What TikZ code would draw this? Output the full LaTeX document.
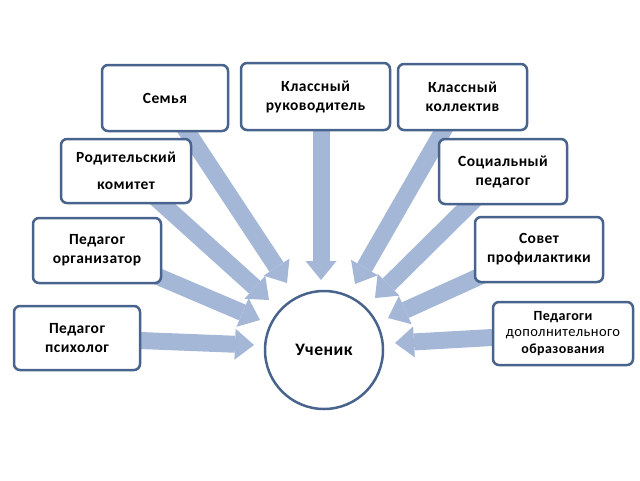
\documentclass[tikz,border=0pt]{standalone}
\usepackage{fontspec}
\setmainfont{Carlito}[LetterSpace=3]
\usetikzlibrary{arrows.meta,backgrounds}
\definecolor{arrowblue}{HTML}{A5B7D7}
\definecolor{boxborder}{HTML}{48648C}
\begin{document}
\begin{tikzpicture}[x=1pt,y=-1pt,
  box/.style={draw=boxborder, line width=2.5pt, rounded corners=6pt, fill=white,
    align=center, inner sep=0pt, font=\bfseries\fontsize{15.5}{19}\selectfont},
  flow/.style={draw=arrowblue, line width=17pt,
    -{Triangle[width=31pt,length=19pt,line width=0pt]}, fill=arrowblue}]
\useasboundingbox (0,0) rectangle (640,480);
% boxes
\node[box, minimum width=126pt, minimum height=66pt] (semya) at (165,98) {Семья};
\node[box, minimum width=149pt, minimum height=67pt] (ruk) at (315.5,96.5) {Классный\\руководитель};
\node[box, minimum width=129pt, minimum height=66pt] (koll) at (462.5,97) {Классный\\коллектив};
\node[box, minimum width=130pt, minimum height=64pt, font=\bfseries\fontsize{15.5}{27}\selectfont] (rodit) at (126,171) {Родительский\\комитет};
\node[box, minimum width=128pt, minimum height=65pt] (soc) at (503,171.5) {Социальный\\педагог};
\node[box, minimum width=128pt, minimum height=65pt] (org) at (97,250.5) {Педагог\\организатор};
\node[box, minimum width=128pt, minimum height=65pt] (sovet) at (539,249.5) {Совет\\профилактики};
\node[box, minimum width=126pt, minimum height=64pt] (psych) at (77,338) {Педагог\\психолог};
\node[box, minimum width=140pt, minimum height=63pt, font=\bfseries\fontsize{14}{16.5}\selectfont] (dop) at (563,333.5) {Педагоги\\{\mdseries\fontsize{14.5}{16.5}\selectfont дополнительного}\\образования};
\node[draw=boxborder, line width=2.5pt, circle, fill=white, minimum size=118pt, inner sep=0pt,
  font=\bfseries\fontsize{17.5}{19}\selectfont] (uch) at (324,350) {Ученик};
% arrow tips
\coordinate (tSem) at (287,283);
\coordinate (tRod) at (269,300);
\coordinate (tOrg) at (260,320);
\coordinate (tPsy) at (254,345);
\coordinate (tRuk) at (321,280);
\coordinate (tKol) at (355,284);
\coordinate (tSoc) at (375,298);
\coordinate (tSov) at (388,318);
\coordinate (tDop) at (395,343);
\begin{scope}[on background layer]
\draw[flow] (semya.center) -- (tSem);
\draw[flow] (rodit.center) -- (tRod);
\draw[flow] (org.center) -- (tOrg);
\draw[flow] (psych.center) -- (tPsy);
\draw[flow] (tRuk |- ruk.center) -- (tRuk);
\draw[flow] (koll.center) -- (tKol);
\draw[flow] (soc.center) -- (tSoc);
\draw[flow] (sovet.center) -- (tSov);
\draw[flow] (dop.center) -- (tDop);
\end{scope}
\end{tikzpicture}
\end{document}
